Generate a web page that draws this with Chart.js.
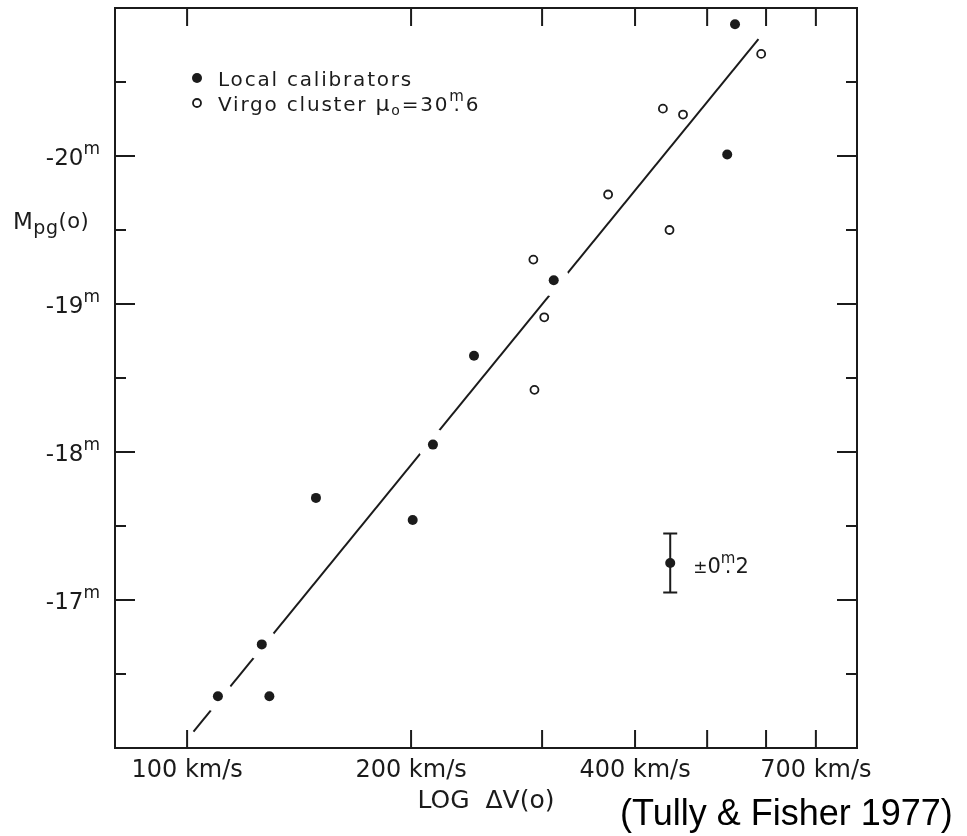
<!DOCTYPE html>
<html>
<head>
<meta charset="utf-8">
<script src="https://cdn.jsdelivr.net/npm/chart.js@4.4.1/dist/chart.umd.min.js"></script>
<style>
  html, body { margin: 0; padding: 0; background: #fff; }
  #wrap { width: 967px; height: 836px; position: relative; }
</style>
</head>
<body>
<div id="wrap"><canvas id="tf"></canvas></div>
<script>
// rotation width (km/s) and absolute magnitude
const localV = [110, 126, 129, 149, 201, 214, 243, 311, 532, 545];
const localM = [-16.35, -16.70, -16.35, -17.69, -17.54, -18.05, -18.65, -19.16, -20.01, -20.89];
const virgoV = [292, 302, 293, 368, 436, 464, 445, 591];
const virgoM = [-19.30, -18.91, -18.42, -19.74, -20.32, -20.28, -19.50, -20.69];
const fitV = [102, 586];
const fitM = [-16.11, -20.79];
const errV = [446];
const errM = [-17.25];
const errSize = 0.2;

const xTicks = [100, 200, 300, 400, 500, 600, 700];
const xLabels = [100, 200, 400, 700];
const yTicks = [-20.5, -20, -19.5, -19, -18.5, -18, -17.5, -17, -16.5];
const yLabels = [-20, -19, -18, -17];

const ink = '#1b1b1b';
const FONT = '"DejaVu Sans"';

const pts = (xs, ys) => xs.map((v, i) => ({ x: v, y: ys[i] }));

// draw a row of text pieces; {sup} puts a small raised letter, with a dot under it if base is set
function drawRuns(ctx, x, y, parts, spacing) {
  ctx.letterSpacing = spacing + 'px';
  ctx.textBaseline = 'alphabetic';
  ctx.textAlign = 'left';
  parts.forEach((p) => {
    if (p.sup) {
      ctx.font = `${p.size}px ${FONT}`;
      const w = ctx.measureText(p.sup).width;
      ctx.fillText(p.sup, x, y + p.dy);
      if (p.base) {
        ctx.font = `${p.base}px ${FONT}`;
        const dw = ctx.measureText('.').width;
        ctx.fillText('.', x + w / 2 - dw / 2, y);
      }
      x += w;
    } else {
      ctx.font = `${p.size}px ${FONT}`;
      ctx.fillText(p.t, x, y + (p.dy || 0));
      x += ctx.measureText(p.t).width;
    }
  });
  ctx.letterSpacing = '0px';
  return x;
}

const decor = {
  id: 'decor',
  afterDraw(chart) {
    const { ctx, chartArea: a, scales: { x, y } } = chart;
    ctx.save();
    ctx.strokeStyle = ink;
    ctx.fillStyle = ink;
    ctx.lineWidth = 2;

    // frame and inward ticks on all four sides
    ctx.strokeRect(a.left, a.top, a.right - a.left, a.bottom - a.top);
    ctx.beginPath();
    xTicks.forEach((v) => {
      const px = x.getPixelForValue(v);
      ctx.moveTo(px, a.bottom); ctx.lineTo(px, a.bottom - 18);
      ctx.moveTo(px, a.top); ctx.lineTo(px, a.top + 18);
    });
    yTicks.forEach((v) => {
      const py = y.getPixelForValue(v);
      const len = yLabels.includes(v) ? 20 : 11;
      ctx.moveTo(a.left, py); ctx.lineTo(a.left + len, py);
      ctx.moveTo(a.right, py); ctx.lineTo(a.right - len, py);
    });
    ctx.stroke();

    // magnitude labels with a raised m
    yLabels.forEach((v) => {
      const py = y.getPixelForValue(v);
      ctx.font = `23px ${FONT}`;
      const w = ctx.measureText(String(v)).width;
      ctx.font = `17px ${FONT}`;
      const mw = ctx.measureText('m').width;
      drawRuns(ctx, a.left - 15 - mw - w, py + 9, [
        { t: String(v), size: 23 }, { sup: 'm', size: 17, dy: -11 },
      ], 0);
    });

    // error bar sample
    const ex = x.getPixelForValue(errV[0]);
    const eTop = y.getPixelForValue(errM[0] - errSize);
    const eBot = y.getPixelForValue(errM[0] + errSize);
    ctx.beginPath();
    ctx.moveTo(ex, eTop); ctx.lineTo(ex, eBot);
    ctx.moveTo(ex - 7, eTop); ctx.lineTo(ex + 7, eTop);
    ctx.moveTo(ex - 7, eBot); ctx.lineTo(ex + 7, eBot);
    ctx.stroke();
    const ey = y.getPixelForValue(errM[0]);
    drawRuns(ctx, ex + 23, ey + 10, [
      { t: '±', size: 17 }, { t: '0', size: 21 },
      { sup: 'm', size: 15, dy: -10, base: 21 }, { t: '2', size: 21 },
    ], 0);

    // legend
    ctx.beginPath();
    ctx.arc(197, 78, 5, 0, Math.PI * 2);
    ctx.fill();
    ctx.beginPath();
    ctx.lineWidth = 1.8;
    ctx.arc(197, 103, 4, 0, Math.PI * 2);
    ctx.stroke();
    drawRuns(ctx, 218, 86, [{ t: 'Local calibrators', size: 20 }], 1.8);
    drawRuns(ctx, 218, 111, [
      { t: 'Virgo cluster ', size: 20 }, { t: 'μ', size: 22 }, { t: 'o', size: 14, dy: 4 },
      { t: '=30', size: 20 }, { sup: 'm', size: 15, dy: -10, base: 20 }, { t: '6', size: 20 },
    ], 1.8);

    // y axis title
    drawRuns(ctx, 13, 229, [
      { t: 'M', size: 23 }, { t: 'pg', size: 19, dy: 5 }, { t: '(o)', size: 21, dy: -1 },
    ], 0.5);

    // source
    ctx.font = '36px "Liberation Sans"';
    ctx.fillStyle = '#000';
    ctx.fillText('(Tully & Fisher 1977)', 620, 825);
    ctx.restore();
  },
};

new Chart(document.getElementById('tf'), {
  type: 'scatter',
  data: {
    datasets: [
      { label: 'fit', type: 'line', data: pts(fitV, fitM), borderColor: ink, borderWidth: 2, pointRadius: 0, fill: false, order: 3 },
      { label: 'halo', data: pts(localV, localM), pointRadius: 16, backgroundColor: '#fff', borderWidth: 0, order: 2 },
      { label: 'Local calibrators', data: pts(localV, localM), pointRadius: 5, backgroundColor: ink, borderWidth: 0, order: 1 },
      { label: 'Virgo cluster', data: pts(virgoV, virgoM), pointRadius: 4, backgroundColor: '#fff', borderColor: ink, borderWidth: 1.8, order: 1 },
      { label: 'error', data: pts(errV, errM), pointRadius: 5, backgroundColor: ink, borderWidth: 0, order: 1 },
    ],
  },
  options: {
    animation: false,
    responsive: true,
    maintainAspectRatio: false,
    events: [],
    layout: { autoPadding: false, padding: { top: 8, right: 110, left: 0, bottom: 0 } },
    plugins: { legend: { display: false }, tooltip: { enabled: false } },
    scales: {
      x: {
        type: 'logarithmic', min: 80, max: 795,
        grid: { display: false }, border: { display: false },
        afterBuildTicks: (s) => { s.ticks = xTicks.map((value) => ({ value })); },
        afterFit: (s) => { s.height = 88; s.paddingLeft = 0; s.paddingRight = 0; },
        ticks: {
          autoSkip: false, maxRotation: 0, padding: 0, color: ink,
          font: { family: 'DejaVu Sans', size: 24 },
          callback: (v) => (xLabels.includes(v) ? v + ' km/s' : ''),
        },
        title: {
          display: true, text: 'LOG  ΔV(o)', color: ink,
          font: { family: 'DejaVu Sans', size: 25 }, padding: { top: 0, bottom: 20 },
        },
      },
      y: {
        type: 'linear', reverse: true, min: -21, max: -16,
        grid: { display: false }, border: { display: false },
        afterBuildTicks: (s) => { s.ticks = yTicks.map((value) => ({ value })); },
        afterFit: (s) => { s.width = 115; s.paddingTop = 0; s.paddingBottom = 0; },
        ticks: { display: false },
      },
    },
  },
  plugins: [decor],
});
</script>
</body>
</html>
